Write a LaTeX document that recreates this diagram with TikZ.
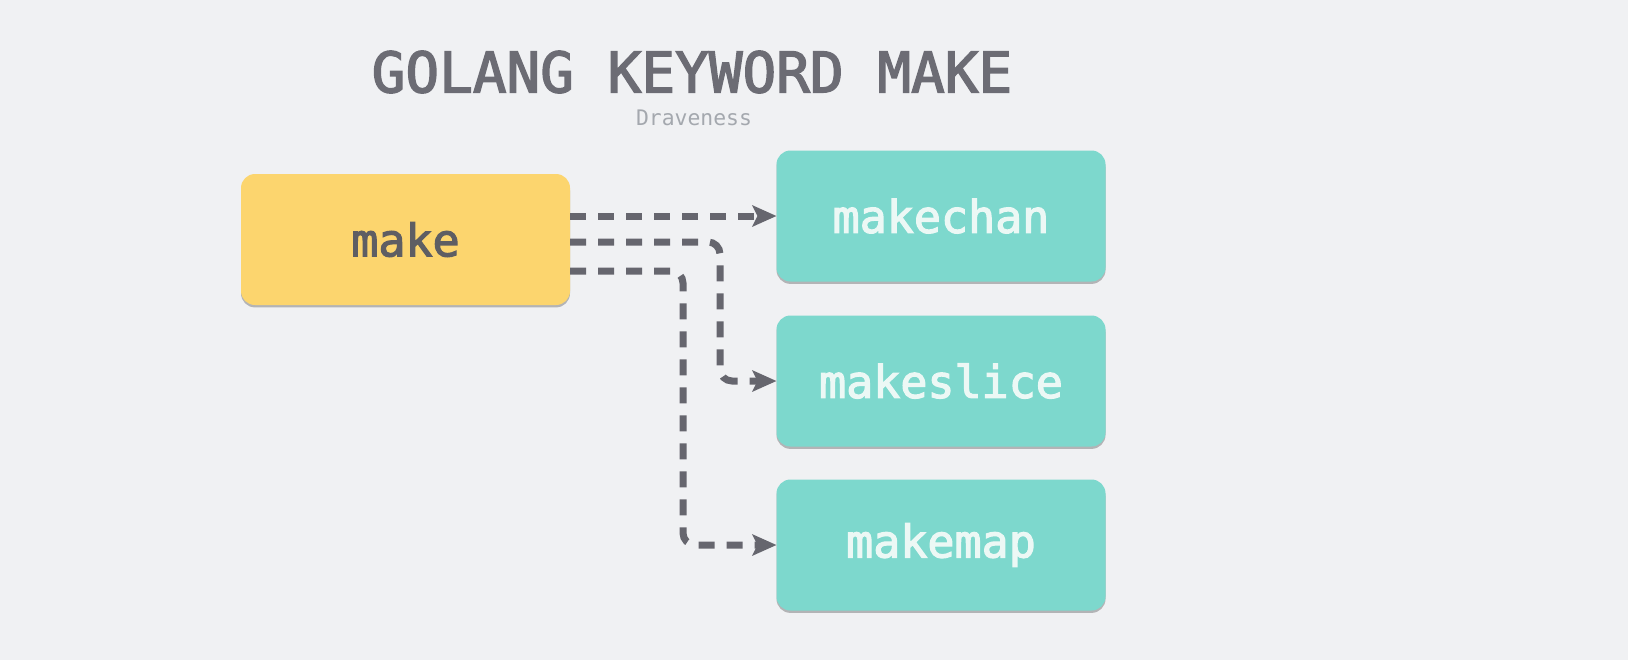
\documentclass[tikz,border=0pt]{standalone}
\usepackage{fontspec}
\setmonofont{DejaVu Sans Mono}
\newfontfamily\mkmedium{DejaVu Sans Mono}[FakeBold=2.6]
\usetikzlibrary{arrows.meta,shadows}
\definecolor{mkBack}{HTML}{F0F1F3}
\definecolor{mkYellow}{HTML}{FCD56E}
\definecolor{mkTeal}{HTML}{7DD8CD}
\definecolor{mkInk}{HTML}{66666E}
\definecolor{mkTitle}{HTML}{6C6C74}
\definecolor{mkText}{HTML}{5E5E63}
\definecolor{mkLight}{HTML}{ECF8F5}
\definecolor{mkMuted}{HTML}{A4A8AE}
\tikzset{
  make diagram/.style={
    x=0.5pt, y=0.5pt,
    >={Stealth[length=12pt,width=10.5pt,inset=2.5pt]},
    every node/.style={inner sep=0pt, outer sep=0pt}
  },
  key box/.style={rounded corners=7pt, minimum width=164.5pt,
    minimum height=65.5pt,
    drop shadow={shadow xshift=0pt, shadow yshift=-1.2pt,
      opacity=0.25, fill=black},
    font=\mkmedium\fontsize{22.5}{27}\selectfont},
  caller box/.style={key box, fill=mkYellow, text=mkText},
  callee box/.style={key box, fill=mkTeal, text=mkLight},
  call link/.style={->, draw=mkInk, line width=3.5pt,
    dash pattern=on 8pt off 6pt, rounded corners=6pt}
}

\begin{document}
\begin{tikzpicture}[make diagram]
    \fill[mkBack] (0,0) rectangle (1628,-660);
    \useasboundingbox (0,0) rectangle (1628,-660);
    \node[text=mkTitle, font=\mkmedium\fontsize{28}{33}\selectfont]
      (title) at (692,-72) {GOLANG KEYWORD MAKE};
    \node[text=mkMuted, font=\ttfamily\fontsize{10.7}{13}\selectfont]
      (author) at (694,-118) {Draveness};
    \node[caller box] (make) at (405.5,-239.5) {make};
    \node[callee box] (makechan) at (941,-216) {makechan};
    \node[callee box] (makeslice) at (941,-381) {makeslice};
    \node[callee box] (makemap) at (941,-545) {makemap};
    \coordinate (slicebend) at (720,-300);
    \coordinate (mapbend) at (683,-400);
    \draw[call link] (make.east |- makechan.west) -- (makechan.west);
    \draw[call link] ([yshift=-1.25pt]make.east) -| (slicebend)
      |- (makeslice.west);
    \draw[call link] ([yshift=-15.75pt]make.east) -| (mapbend)
      |- (makemap.west);
  \end{tikzpicture}
\end{document}
